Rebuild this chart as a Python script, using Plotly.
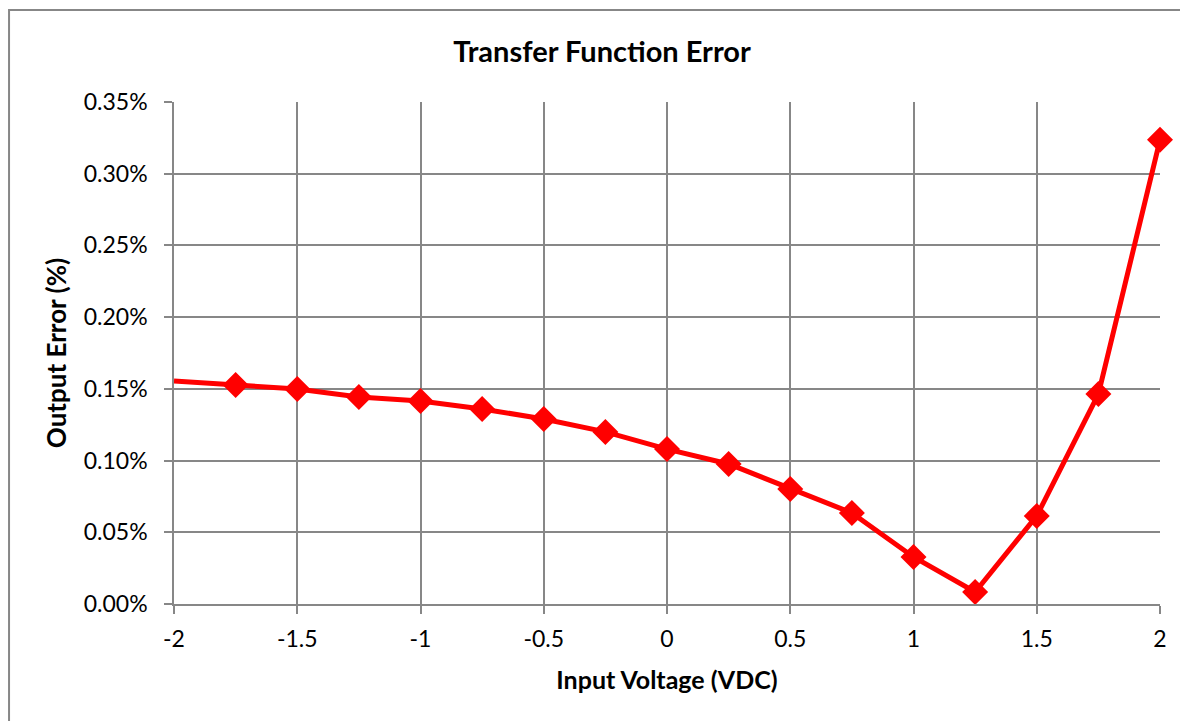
import plotly.graph_objects as go

# input voltage steps and measured output error (in percent)
input_voltage = [-2, -1.75, -1.5, -1.25, -1, -0.75, -0.5, -0.25, 0,
                 0.25, 0.5, 0.75, 1, 1.25, 1.5, 1.75, 2]
error_pct = [0.1555, 0.1527, 0.1499, 0.1443, 0.1416, 0.1360, 0.1290, 0.1200, 0.1080,
             0.0976, 0.0802, 0.0635, 0.0328, 0.0084, 0.0614, 0.1464, 0.3236]

x_ticks = [-2, -1.5, -1, -0.5, 0, 0.5, 1, 1.5, 2]
x_tick_labels = ['-2', '-1.5', '-1', '-0.5', '0', '0.5', '1', '1.5', '2']

GRID = '#878787'
FONT = 'Lato, Open Sans, sans-serif'

# first point sits on the axis edge without a visible marker
marker_sizes = [0] + [20] * (len(input_voltage) - 1)

fig = go.Figure()
fig.add_trace(go.Scatter(
    x=input_voltage,
    y=[v / 100 for v in error_pct],
    mode='lines+markers',
    line=dict(color='#ff0000', width=5),
    marker=dict(symbol='diamond', size=marker_sizes, color='#ff0000',
                opacity=1, line=dict(width=0)),
    cliponaxis=False,
    showlegend=False
))

# the page body adds ~8px offset, so margins are shifted to compensate
fig.update_layout(
    width=1188, height=721,
    paper_bgcolor='white', plot_bgcolor='white',
    margin=dict(l=166, r=36, t=94, b=125),
    font=dict(family=FONT, size=23, color='black'),
    title=dict(text='<b>Transfer Function Error</b>', x=0.5, xanchor='center',
               y=0.939, yanchor='middle', font=dict(size=29, family=FONT)),
    xaxis=dict(
        range=[-2, 2], tickvals=x_ticks, ticktext=x_tick_labels,
        showgrid=True, gridcolor=GRID, gridwidth=1.5,
        showline=True, linecolor=GRID, linewidth=1.5,
        ticks='outside', ticklen=8, tickcolor=GRID, tickwidth=1.5,
        ticklabelstandoff=6,
        zeroline=False,
        title=dict(text='<b>Input Voltage (VDC)</b>', standoff=20,
                   font=dict(size=25)),
    ),
    yaxis=dict(
        range=[0, 0.0035], dtick=0.0005, tickformat='.2%',
        showgrid=True, gridcolor=GRID, gridwidth=1.5,
        showline=True, linecolor=GRID, linewidth=1.5,
        ticks='outside', ticklen=8, tickcolor=GRID, tickwidth=1.5,
        ticklabelstandoff=12,
        zeroline=False,
        title=dict(text='<b>Output Error (%)</b>', standoff=10,
                   font=dict(size=26)),
    ),
    shapes=[dict(type='rect', xref='paper', yref='paper',
                 x0=-0.1673, x1=1.04, y0=-0.26, y1=1.1833,
                 line=dict(color=GRID, width=2), layer='below')]
)

fig.write_html("out.html")
